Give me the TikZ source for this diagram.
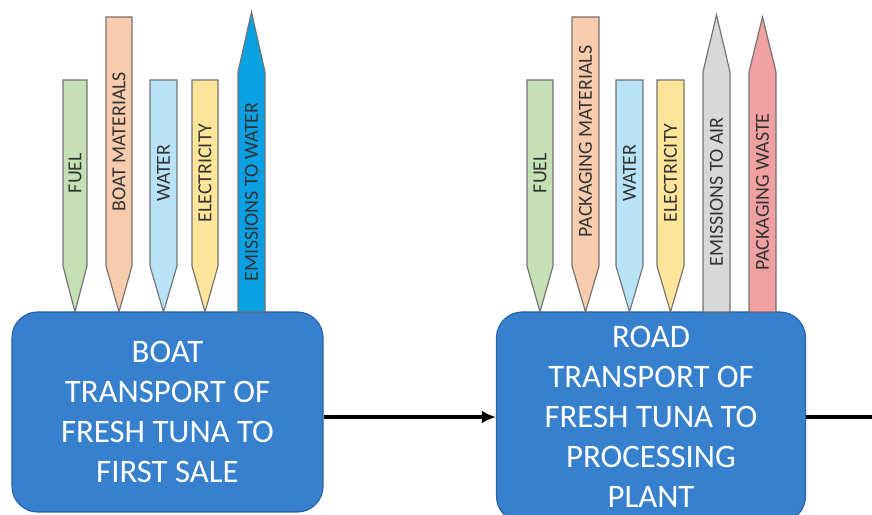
\documentclass[tikz,border=0pt]{standalone}
\usepackage{fontspec}
\setmainfont{Carlito}
\usepackage{tikz}
\usetikzlibrary{arrows.meta,positioning}

\definecolor{cajaazul}{RGB}{55,128,205}
\definecolor{bordeazul}{RGB}{40,100,170}
\definecolor{combverde}{RGB}{197,224,180}
\definecolor{matnaranja}{RGB}{248,203,173}
\definecolor{aguaceleste}{RGB}{184,226,246}
\definecolor{elecamarillo}{RGB}{255,229,153}
\definecolor{emisagua}{RGB}{10,160,228}
\definecolor{emisaire}{RGB}{216,216,216}
\definecolor{residuorosa}{RGB}{240,160,160}

% entrada: lapiz con punta hacia abajo (x1, x2, arriba, color, texto, nombre)
\newcommand{\lapizin}[6]{%
  \draw[lapiz, fill=#4] (#1,#3) -- (#2,#3) -- (#2,266) -- ({(#1+#2)/2},312)
    -- (#1,266) -- cycle;
  \node[rotulo] (#6) at ({(#1+#2)/2},{(#3+266)/2}) {#5};
}
% salida: lapiz con punta hacia arriba (x1, x2, punta, color, texto, nombre)
\newcommand{\lapizout}[6]{%
  \draw[lapiz, fill=#4] (#1,312) -- (#1,72) -- ({(#1+#2)/2},#3) -- (#2,72)
    -- (#2,312) -- cycle;
  \node[rotulo] (#6) at ({(#1+#2)/2},192) {#5};
}

\begin{document}
\begin{tikzpicture}[
    x=0.03cm, y=-0.03cm,
    >={Latex[length=12pt, width=11pt]},
    etapa/.style={draw=bordeazul, line width=1pt, fill=cajaazul, rounded corners=22pt,
                  text=white, align=center, font=\fontsize{28}{34}\selectfont,
                  inner sep=0pt},
    lapiz/.style={draw=black!55, line width=1pt, line join=miter},
    rotulo/.style={rotate=90, font=\fontsize{17}{17}\selectfont, text=black!80,
                   inner sep=0pt}
  ]
  \useasboundingbox (0,0) rectangle (872,515);

  % Etapas del proceso
  \node[etapa, minimum width=9.33cm, minimum height=6cm] (barco) at (167.5,412) {
    BOAT\\ TRANSPORT OF\\ FRESH TUNA TO\\ FIRST SALE
  };
  \node[etapa, minimum width=9.27cm, minimum height=6.3cm] (camion) at (651,417) {
    ROAD\\ TRANSPORT OF\\ FRESH TUNA TO\\ PROCESSING\\ PLANT
  };
  \coordinate (salida) at (875,417);

  % Entradas y salidas de la etapa en barco
  \lapizin{63}{87}{80}{combverde}{FUEL}{b-fuel}
  \lapizin{106}{132}{17}{matnaranja}{BOAT MATERIALS}{b-mat}
  \lapizin{150}{177}{80}{aguaceleste}{WATER}{b-agua}
  \lapizin{192}{218}{80}{elecamarillo}{ELECTRICITY}{b-elec}
  \lapizout{238}{265}{12}{emisagua}{EMISSIONS TO WATER}{b-emis}

  % Entradas y salidas de la etapa por carretera
  \lapizin{527}{553}{80}{combverde}{FUEL}{c-fuel}
  \lapizin{572}{599}{17}{matnaranja}{PACKAGING MATERIALS}{c-mat}
  \lapizin{616}{643}{80}{aguaceleste}{WATER}{c-agua}
  \lapizin{657}{684}{80}{elecamarillo}{ELECTRICITY}{c-elec}
  \lapizout{703}{730}{15}{emisaire}{EMISSIONS TO AIR}{c-aire}
  \lapizout{749}{776}{17}{residuorosa}{PACKAGING WASTE}{c-res}

  % Flechas entre etapas
  \draw[->, line width=3pt] (barco.east |- 0,417) -- (camion.west |- 0,417);
  \draw[line width=3pt] (camion.east |- salida) -- (salida);
\end{tikzpicture}
\end{document}
